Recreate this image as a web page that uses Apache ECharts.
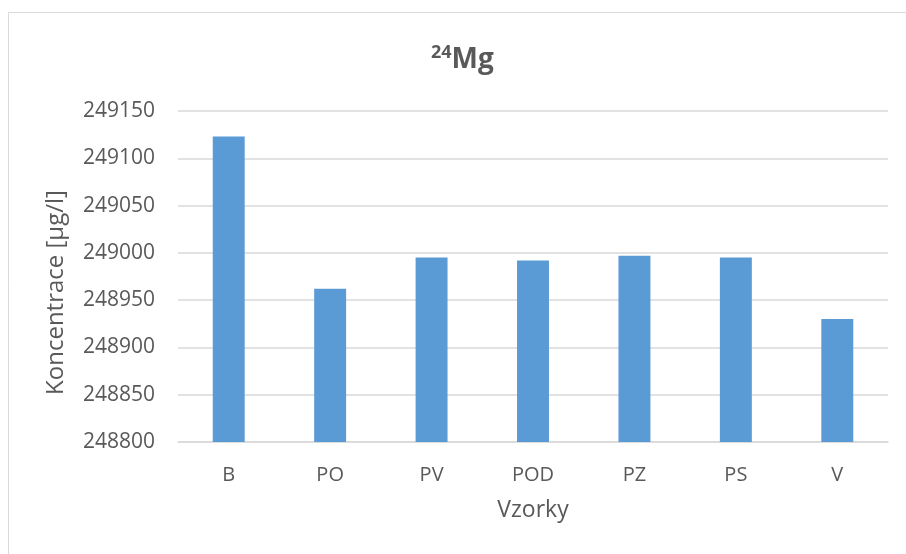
<!DOCTYPE html>
<html>
<head>
<meta charset="utf-8">
<script src="https://cdn.jsdelivr.net/npm/echarts@6/dist/echarts.min.js"></script>
<style>
html,body{margin:0;padding:0;background:#fff;}
#c{width:906px;height:554px;}
</style>
</head>
<body>
<div id="c"></div>
<script>
const categories = ['B', 'PO', 'PV', 'POD', 'PZ', 'PS', 'V'];
const values = [249123, 248962, 248995, 248992, 248997, 248995, 248930];
const yMin = 248800;
const yMax = 249150;
const yStep = 50;

const FONT = '"Open Sans", "Noto Sans", sans-serif';
const chart = echarts.init(document.getElementById('c'), null, {renderer: 'canvas'});
chart.setOption({
  backgroundColor: '#ffffff',
  animation: false,
  graphic: [{
    type: 'rect',
    shape: {x: 8.5, y: 12.5, width: 1000, height: 1000},
    style: {fill: 'none', stroke: '#d9d9d9', lineWidth: 1},
    silent: true
  }],
  title: {
    text: '{s|24}{m|Mg}',
    left: 426,
    top: 39,
    textStyle: {
      rich: {
        s: {fontFamily: FONT, fontSize: 18, fontWeight: 'bold', color: '#595959', verticalAlign: 'top', padding: [0,0,14,0]},
        m: {fontFamily: FONT, fontSize: 28, fontWeight: 'bold', color: '#595959'}
      }
    }
  },
  grid: {left: 178, right: 18, top: 111, bottom: 112, containLabel: false},
  xAxis: {
    type: 'category',
    data: categories,
    name: 'Vzorky',
    nameLocation: 'middle',
    nameGap: 57,
    nameTextStyle: {fontFamily: FONT, fontSize: 23, color: '#595959'},
    axisLine: {show: true, lineStyle: {color: '#d9d9d9', width: 1.5}},
    axisTick: {show: false},
    axisLabel: {fontFamily: FONT, fontSize: 20, color: '#595959', margin: 23}
  },
  yAxis: {
    type: 'value',
    min: yMin,
    max: yMax,
    interval: yStep,
    name: 'Koncentrace [µg/l]',
    nameLocation: 'middle',
    nameGap: 110,
    nameTextStyle: {fontFamily: FONT, fontSize: 24, color: '#595959', padding: [0, 32, 0, 0]},
    axisLine: {show: false},
    axisTick: {show: false},
    splitLine: {show: true, lineStyle: {color: '#d9d9d9', width: 1.5}},
    axisLabel: {fontFamily: FONT, fontSize: 21, color: '#595959', margin: 23,
      formatter: function (v) { return String(v); }}
  },
  series: [{
    type: 'bar',
    data: values,
    barWidth: '31.5%',
    itemStyle: {color: '#5b9bd5'}
  }]
});
</script>
</body>
</html>
